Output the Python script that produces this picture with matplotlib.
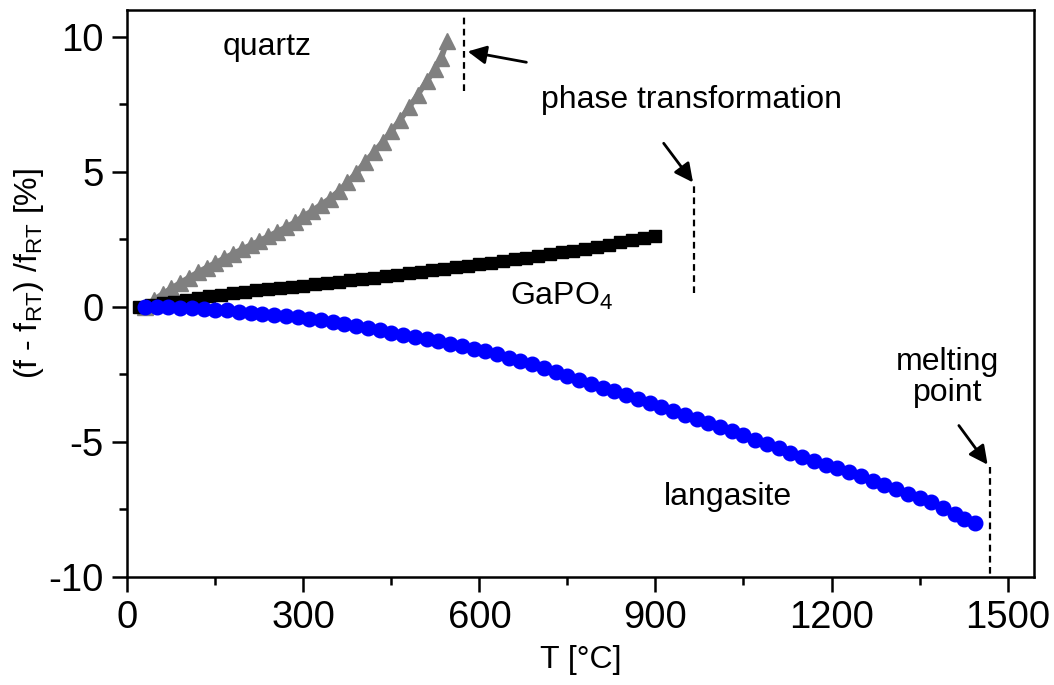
import matplotlib
matplotlib.use("Agg")
import matplotlib.pyplot as plt
from matplotlib.ticker import MultipleLocator

plt.rcParams['font.family'] = ['Liberation Sans', 'DejaVu Sans']
plt.rcParams['mathtext.fontset'] = 'custom'
plt.rcParams['mathtext.rm'] = 'Liberation Sans'
plt.rcParams['mathtext.it'] = 'Liberation Sans'

# quartz (grey triangles)
quartz_t = [30, 45, 60, 75, 90, 105, 120, 135, 150, 165, 180, 195, 210, 225, 240, 255,
            270, 285, 300, 315, 330, 345, 360, 375, 390, 405, 420, 435, 450, 465, 480,
            495, 510, 525, 535, 545]
quartz_f = [0.0, 0.25, 0.47, 0.68, 0.88, 1.08, 1.27, 1.45, 1.62, 1.79, 1.96, 2.12, 2.28,
            2.44, 2.6, 2.77, 2.94, 3.12, 3.35, 3.55, 3.78, 4.0, 4.28, 4.6, 4.95, 5.35,
            5.72, 6.1, 6.5, 6.92, 7.38, 7.85, 8.35, 8.8, 9.2, 9.85]

# GaPO4 (black squares)
gapo_t = [20, 40, 60, 80, 100, 120, 140, 160, 180, 200, 220, 240, 260, 280, 300, 320,
          340, 360, 380, 400, 420, 440, 460, 480, 500, 520, 540, 560, 580, 600, 620,
          640, 660, 680, 700, 720, 740, 760, 780, 800, 820, 840, 860, 880, 900]
gapo_f = [0.0, 0.07, 0.13, 0.19, 0.25, 0.31, 0.38, 0.44, 0.5, 0.55, 0.6, 0.65, 0.69,
          0.74, 0.78, 0.83, 0.88, 0.92, 0.97, 1.02, 1.07, 1.13, 1.18, 1.24, 1.3, 1.35,
          1.41, 1.46, 1.52, 1.57, 1.63, 1.69, 1.75, 1.82, 1.88, 1.95, 2.01, 2.08, 2.15,
          2.22, 2.3, 2.38, 2.46, 2.54, 2.62]

# langasite (blue circles)
lgs_t = [30, 50, 70, 90, 110, 130, 150, 170, 190, 210, 230, 250, 270, 290, 310, 330,
         350, 370, 390, 410, 430, 450, 470, 490, 510, 530, 550, 570, 590, 610, 630, 650,
         670, 690, 710, 730, 750, 770, 790, 810, 830, 850, 870, 890, 910, 930, 950, 970,
         990, 1010, 1030, 1050, 1070, 1090, 1110, 1130, 1150, 1170, 1190, 1210, 1230,
         1250, 1270, 1290, 1310, 1330, 1350, 1370, 1390, 1410, 1425, 1445]
lgs_f = [0.0, -0.01, -0.02, -0.04, -0.06, -0.08, -0.11, -0.14, -0.18, -0.22, -0.26,
         -0.3, -0.35, -0.4, -0.45, -0.51, -0.58, -0.65, -0.72, -0.8, -0.88, -0.96, -1.04,
         -1.12, -1.2, -1.28, -1.37, -1.46, -1.55, -1.65, -1.77, -1.89, -2.01, -2.13,
         -2.26, -2.4, -2.55, -2.7, -2.85, -3.0, -3.14, -3.28, -3.43, -3.58, -3.73, -3.88,
         -4.02, -4.15, -4.3, -4.45, -4.6, -4.76, -4.92, -5.08, -5.24, -5.4, -5.56, -5.71,
         -5.85, -5.99, -6.13, -6.28, -6.44, -6.6, -6.76, -6.92, -7.08, -7.25, -7.45,
         -7.68, -7.85, -8.0]

fig = plt.figure(figsize=(10.54, 6.85), dpi=100)
ax = fig.add_axes([0.1208, 0.158, 0.8602, 0.828])

ax.plot(gapo_t, gapo_f, color='black', marker='s', ms=8.5, lw=3, zorder=3)
ax.plot(quartz_t, quartz_f, color='#808080', marker='^', ms=11, lw=4, zorder=2)
ax.plot(lgs_t, lgs_f, color='#0000ff', marker='o', ms=10.5, lw=3, zorder=4)

# transition markers
ax.plot([573, 573], [8.0, 10.8], color='black', lw=1.6, ls=(0, (3, 2)))
ax.plot([966, 966], [0.5, 4.5], color='black', lw=1.6, ls=(0, (3, 2)))
ax.plot([1470, 1470], [-5.95, -10], color='black', lw=1.6, ls=(0, (3, 2)))

arrow = dict(arrowstyle='-|>', color='black', lw=2, mutation_scale=28, shrinkA=0, shrinkB=0)
ax.annotate('', xy=(580, 9.45), xytext=(680, 9.05), arrowprops=arrow)
ax.annotate('', xy=(964, 4.6), xytext=(914, 6.05), arrowprops=arrow)
ax.annotate('', xy=(1466, -5.85), xytext=(1417, -4.4), arrowprops=arrow)

fs = 23
ax.text(238, 9.6, 'quartz', fontsize=fs, ha='center', va='center')
ax.text(962, 7.67, 'phase transformation', fontsize=fs, ha='center', va='center')
ax.text(652, 0.05, 'GaPO$_4$', fontsize=fs, ha='left', va='baseline')
ax.text(1023, -7.04, 'langasite', fontsize=fs, ha='center', va='center')
ax.text(1398, -2.63, 'melting\npoint', fontsize=fs, ha='center', va='center',
        linespacing=1.05)

ax.set_xlim(0, 1545)
ax.set_ylim(-10, 11)
ax.xaxis.set_major_locator(MultipleLocator(300))
ax.xaxis.set_minor_locator(MultipleLocator(150))
ax.yaxis.set_major_locator(MultipleLocator(5))
ax.yaxis.set_minor_locator(MultipleLocator(2.5))
ax.tick_params(which='both', direction='out', width=1.8, top=False, right=False,
               labelsize=27.5)
ax.tick_params(which='major', length=11, pad=6)
ax.tick_params(which='minor', length=6)
ax.set_yticks([-10, -5, 0, 5, 10])
ax.set_yticklabels(['-10', '-5', '0', '5', '10'])
for s in ax.spines.values():
    s.set_linewidth(1.8)

ax.set_xlabel('T [°C]', fontsize=23, labelpad=6)
ax.set_ylabel('(f - f$_{RT}$) /f$_{RT}$ [%]', fontsize=23)
ax.yaxis.set_label_coords(-0.09, 0.535)

fig.savefig('out.png', dpi=100)
